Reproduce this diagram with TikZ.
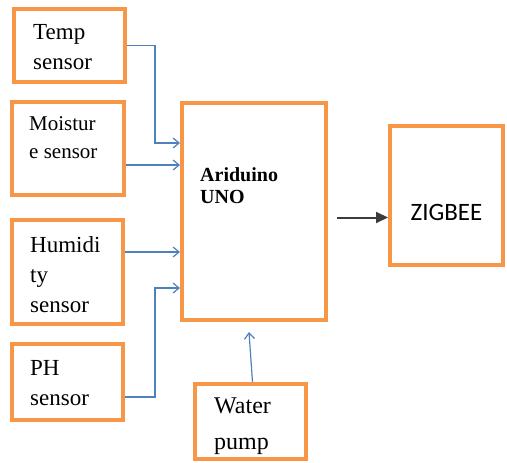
\documentclass[tikz,border=0pt]{standalone}
\usepackage{fontspec}
\setmainfont{Liberation Serif}
\newfontfamily\zigfont{Carlito}
\usetikzlibrary{arrows.meta,positioning}
\definecolor{boxorange}{RGB}{247,150,70}
\definecolor{linkblue}{RGB}{79,129,189}
\definecolor{darkarrow}{RGB}{60,60,60}

\begin{document}
\begin{tikzpicture}[x=1pt, y=-1pt,
    box/.style={rectangle, draw=boxorange, line width=4pt, fill=white},
    txt/.style={inner sep=0pt, align=left, font=\fontsize{23}{30}\selectfont},
    sig/.style={draw=linkblue, line width=1.2pt, -{Straight Barb[length=6pt,width=10pt]}},
    outarrow/.style={draw=darkarrow, line width=2pt, -{Triangle[length=12pt,width=11pt]}}
]
    \useasboundingbox (0,0) rectangle (507,463);

    % Sensors
    \node[box, minimum width=111pt, minimum height=73pt] (temp) at (69.5,45.5) {};
    \node[box, minimum width=112pt, minimum height=93pt] (moist) at (68,148.5) {};
    \node[box, minimum width=111pt, minimum height=104pt] (humid) at (67.5,272) {};
    \node[box, minimum width=111pt, minimum height=76pt] (ph) at (67.5,382) {};

    % Controller, radio and pump
    \node[box, minimum width=144pt, minimum height=217pt] (ard) at (254,211.5) {};
    \node[box, minimum width=113pt, minimum height=139pt] (zig) at (446.5,195.5) {};
    \node[box, minimum width=111pt, minimum height=75pt] (pump) at (250.5,421.5) {};

    % Labels
    \node[txt, right=21pt of temp.west, yshift=-1.5pt] (tempT) {Temp\\sensor};
    \node[txt, font=\fontsize{21}{28}\selectfont, right=19pt of moist.west, yshift=11pt] (moistT) {Moistur\\e sensor};
    \node[txt, right=20pt of humid.west, yshift=-3pt] (humidT) {Humidi\\ty\\sensor};
    \node[txt, right=20pt of ph.west, yshift=-1pt] (phT) {PH\\sensor};
    \node[txt, font=\bfseries\fontsize{20}{22}\selectfont, right=20pt of ard.west, yshift=25.5pt] (ardT) {Ariduino\\UNO};
    \node[inner sep=0pt, font=\zigfont\fontsize{25}{30}\selectfont] (zigT) at ([yshift=-16.5pt]zig.center) {ZIGBEE};
    \node[txt, font=\fontsize{24}{36}\selectfont, right=21pt of pump.west, yshift=-5pt] (pumpT) {Water\\pump};

    % Inputs to the controller
    \coordinate (tempin) at ([yshift=-42pt]ard.north west);
    \coordinate (moistin) at ([yshift=-64pt]ard.north west);
    \coordinate (humin) at ([yshift=-151pt]ard.north west);
    \coordinate (phin) at ([yshift=-187pt]ard.north west);
    \draw[sig] (temp.east) -- ++(28,0) |- (tempin);
    \draw[sig] (moist.east |- moistin) -- (moistin);
    \draw[sig] (humid.east |- humin) -- (humin);
    \draw[sig] ([yshift=-15pt]ph.east) -- ++(30,0) |- (phin);
    \draw[sig] ([xshift=2pt]pump.north) -- ([xshift=-5pt,yshift=-10pt]ard.south);

    % Output to ZIGBEE
    \coordinate (zigin) at ([yshift=-22pt]zig.west);
    \coordinate (ardout) at ([xshift=9pt]ard.east |- zigin);
    \draw[outarrow] (ardout) -- (zigin);
\end{tikzpicture}
\end{document}
